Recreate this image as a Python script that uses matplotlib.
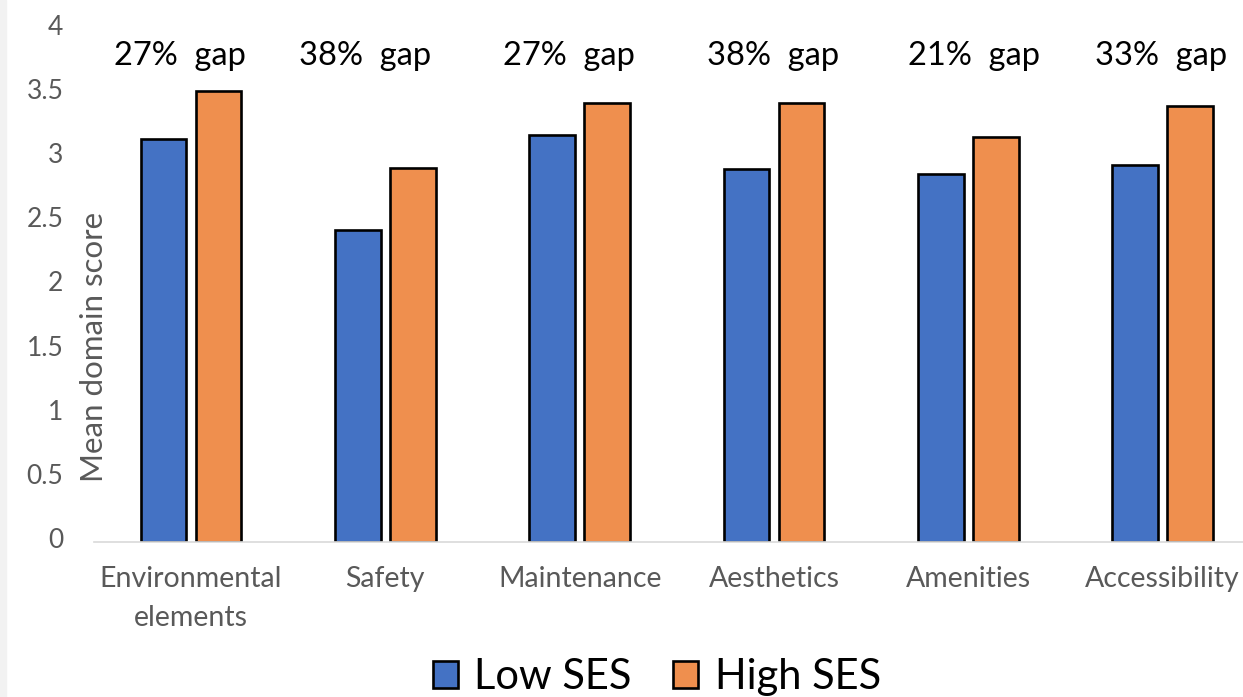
import numpy as np
import matplotlib.pyplot as plt
import matplotlib.transforms as mtransforms
from matplotlib.patches import Rectangle

# Mean domain scores by neighbourhood SES
categories = ['Environmental\nelements', 'Safety', 'Maintenance',
              'Aesthetics', 'Amenities', 'Accessibility']
low_ses = [3.14, 2.43, 3.17, 2.91, 2.87, 2.94]
high_ses = [3.52, 2.92, 3.42, 3.42, 3.16, 3.40]
gap_pct = [27, 38, 27, 38, 21, 33]
yticks = [0, 0.5, 1, 1.5, 2, 2.5, 3, 3.5, 4]

BLUE = '#4472C4'
ORANGE = '#EF8F4E'
GREY_TEXT = '#595959'

plt.rcParams['font.family'] = ['Lato', 'DejaVu Sans']

fig = plt.figure(figsize=(12.43, 6.97), dpi=100)
fig.patches.append(Rectangle((0, 0), 6 / 1243, 1, transform=fig.transFigure,
                             color='#f2f2f2', zorder=-1))

ax = fig.add_axes([0.0755, 0.2224, 0.938, 0.736])
x = np.arange(len(categories))
w = 0.235
ax.bar(x - 0.142, low_ses, w, color=BLUE, edgecolor='black', linewidth=1.9,
       label='Low SES')
ax.bar(x + 0.142, high_ses, w, color=ORANGE, edgecolor='black', linewidth=1.9,
       label='High SES')

ax.set_xlim(-0.5, 5.5)
ax.set_ylim(0, 4)
ax.set_xticks(x)
ax.set_xticklabels(categories, linespacing=1.65)
ax.set_yticks(yticks)
ax.set_yticklabels([f'{t:g}' for t in yticks])

for side in ['left', 'top', 'right']:
    ax.spines[side].set_visible(False)
ax.spines['bottom'].set_color('#d9d9d9')
ax.spines['bottom'].set_linewidth(1.2)

ax.tick_params(axis='both', length=0, colors=GREY_TEXT)
ax.tick_params(axis='y', pad=22, labelsize=19)
ax.tick_params(axis='x', pad=17, labelsize=20.5)

# nudge the y labels up a little
shift = mtransforms.ScaledTranslation(0, 4 / 100, fig.dpi_scale_trans)
for lab in ax.get_yticklabels():
    lab.set_transform(lab.get_transform() + shift)

fig.text(94.5 / 1243, 1 - 347 / 697, 'Mean domain score', rotation=90,
         ha='center', va='center', fontsize=22.5, color=GREY_TEXT)

# gap annotations above each pair
nudge = [-11, -20, -11, -1, 6, -2]
for i, (p, dx) in enumerate(zip(gap_pct, nudge)):
    ax.annotate(f'{p}%  gap', xy=(i, 3.72), xytext=(dx * 0.72, 0),
                textcoords='offset points', ha='center', va='baseline',
                fontsize=23.5, color='black', annotation_clip=False)

fig.legend(loc='center', bbox_to_anchor=(657 / 1243, 1 - 677 / 697), ncol=2,
           frameon=False, fontsize=30, handlelength=0.6, handleheight=0.6,
           handletextpad=0.4, columnspacing=1.0)

fig.savefig('out.png', dpi=100)
